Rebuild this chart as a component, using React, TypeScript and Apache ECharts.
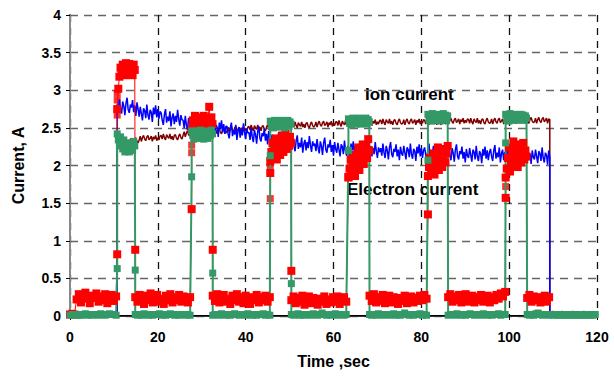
import { useEffect, useRef } from "react";
import * as echarts from "echarts";

// ---------- axis ticks ----------
const xTicks = { min: 0, max: 120, interval: 20 };
const yTicks = { min: 0, max: 4, interval: 0.5 };

// ---------- sampling ----------
const LOW_STEP = 0.5; // s between probe samples in low (ion-collecting) phases
const HIGH_STEP = 0.25; // s between probe samples in high (electron-collecting) phases
const LINE_STEP = 0.25; // s between discharge-current samples
// times of switching between probe phases (s)
const switchTimes = [10.75, 14.85, 27.7, 32.5, 45.6, 50.4, 63.4, 68.2, 81.5, 86.1, 99.2, 104.1];

// ---------- green probe (phases between switch times) ----------
const greenP0 = [0.01,0.02,0.01,0.02,0.01,0.01,0.02,0.03,0.01,0.02,0.01,0.02,0.02,0.01,0.03,0.02,0.01,0.02,0.03,0.02,0.02,0.01];
const greenP1 = [2.42,2.34,2.26,2.38,2.3,2.22,2.34,2.18,2.26,2.2,2.3,2.18,2.24,2.28,2.2,2.32,2.26];
const greenP2 = [0.02,0.01,0.02,0.01,0.03,0.02,0.01,0.02,0.01,0.02,0.02,0.03,0.01,0.02,0.01,0.02,0.03,0.02,0.01,0.02,0.01,0.02,0.02,0.01,0.02,0.01];
const greenP3 = [2.46,2.4,2.35,2.44,2.38,2.46,2.36,2.42,2.47,2.37,2.43,2.35,2.45,2.39,2.46,2.36,2.44,2.4,2.47,2.42];
const greenP4 = [0.01,0.02,0.02,0.01,0.03,0.02,0.01,0.02,0.01,0.02,0.03,0.02,0.01,0.02,0.02,0.01,0.03,0.02,0.01,0.02,0.01,0.02,0.02,0.03,0.01,0.02,0.01];
const greenP5 = [2.59,2.53,2.57,2.5,2.6,2.54,2.58,2.51,2.59,2.55,2.6,2.52,2.57,2.5,2.59,2.54,2.6,2.52,2.58,2.55];
const greenP6 = [0.02,0.01,0.02,0.03,0.01,0.02,0.01,0.02,0.02,0.01,0.03,0.02,0.01,0.02,0.04,0.02,0.01,0.02,0.01,0.02,0.03,0.01,0.02,0.02,0.01,0.02];
const greenP7 = [2.62,2.56,2.6,2.54,2.63,2.57,2.61,2.55,2.62,2.58,2.63,2.55,2.6,2.56,2.62,2.57,2.63,2.55,2.61,2.58];
const greenP8 = [0.02,0.01,0.02,0.01,0.03,0.02,0.01,0.02,0.02,0.01,0.02,0.03,0.01,0.02,0.01,0.02,0.04,0.02,0.01,0.02,0.01,0.02,0.02,0.03,0.01,0.02,0.01];
const greenP9 = [2.68,2.61,2.65,2.59,2.69,2.62,2.66,2.6,2.68,2.63,2.67,2.59,2.65,2.61,2.69,2.62,2.67,2.6,2.66];
const greenP10 = [0.01,0.02,0.02,0.01,0.03,0.02,0.01,0.02,0.01,0.02,0.03,0.02,0.01,0.02,0.02,0.01,0.03,0.02,0.01,0.02,0.01,0.02,0.02,0.03,0.01,0.02,0.02];
const greenP11 = [2.68,2.61,2.65,2.59,2.69,2.62,2.66,2.6,2.68,2.63,2.67,2.6,2.65,2.61,2.68,2.62,2.67,2.6,2.66,2.63];
const greenP12 = [0.02,0.01,0.02,0.01,0.03,0.04,0.02,0.01,0.02,0.02,0.01,0.02,0.01,0.02,0.01,0.01,0.02,0.01,0.01,0.02,0.01,0.01,0.02,0.01,0.01,0.02,0.01,0.01,0.02,0.01,0.01,0.02];
const greenSwitchValues = [0.63, 0.61, 1.85, 0.57, 2.13, 0.43, 2.2, null, 2.07, null, 2.3, null];

// ---------- red probe ----------
const redP0 = [0.02,0.03,0.02,0.22,0.29,0.18,0.26,0.31,0.23,0.17,0.27,0.24,0.3,0.19,0.26,0.21,0.29,0.17,0.25,0.28,0.2,0.26];
const redP1 = [2.75,3.02,3.18,3.3,3.22,3.34,3.26,3.2,3.36,3.28,3.22,3.35,3.25,3.31,3.2,3.34,3.27];
const redP2 = [0.25,0.19,0.28,0.22,0.16,0.27,0.21,0.3,0.18,0.25,0.28,0.19,0.23,0.16,0.27,0.21,0.29,0.18,0.25,0.21,0.28,0.19,0.26,0.23,0.18,0.25];
const redP3 = [2.48,2.6,2.54,2.66,2.5,2.62,2.56,2.47,2.64,2.58,2.52,2.66,2.55,2.6,2.5,2.63,2.78,2.57,2.64,2.55];
const redP4 = [0.27,0.2,0.29,0.18,0.25,0.28,0.19,0.23,0.16,0.27,0.21,0.29,0.19,0.25,0.17,0.27,0.23,0.16,0.25,0.21,0.28,0.18,0.25,0.21,0.27,0.19,0.25];
const redP5 = [2.06,2.18,2.3,2.12,2.24,2.36,2.08,2.2,2.32,2.14,2.28,2.4,2.18,2.3,2.42,2.22,2.34,2.26,2.38,2.3];
const redP6 = [0.21,0.26,0.17,0.24,0.19,0.27,0.15,0.22,0.26,0.17,0.24,0.2,0.15,0.23,0.19,0.26,0.16,0.22,0.18,0.25,0.19,0.26,0.16,0.21,0.25,0.19];
const redP7 = [1.84,1.96,2.08,1.9,2.02,2.14,1.86,2.0,2.12,2.24,1.94,2.06,2.18,2.28,2.02,2.14,2.26,2.1,2.35,2.2];
const redP8 = [0.27,0.2,0.29,0.18,0.25,0.2,0.28,0.17,0.24,0.27,0.18,0.25,0.21,0.16,0.24,0.2,0.27,0.17,0.22,0.26,0.18,0.24,0.2,0.27,0.21,0.28,0.23];
const redP9 = [1.86,1.98,2.1,1.9,2.02,2.16,1.88,2.0,2.12,2.24,1.94,2.06,2.2,1.98,2.1,2.22,2.04,2.16,2.26];
const redP10 = [0.25,0.29,0.19,0.26,0.21,0.28,0.18,0.25,0.29,0.19,0.23,0.27,0.18,0.25,0.21,0.28,0.19,0.23,0.27,0.18,0.25,0.21,0.28,0.23,0.3,0.26,0.32];
const redP11 = [1.84,1.96,2.1,2.24,1.92,2.06,2.2,2.32,2.0,2.14,2.28,1.98,2.1,2.22,2.04,2.16,2.3,2.08,2.2,2.12];
const redP12 = [0.24,0.28,0.19,0.26,0.21,0.25,0.18,0.23,0.27,0.19,0.25];
const redSwitchValues = [0.82, 0.88, 1.42, 0.88, 1.9, 0.6, 1.85, null, 1.35, null, 1.57, null];
const redExtraPoints = [
  [10.75, 2.67], [10.75, 2.87], [10.75, 2.96],
  [27.7, 2.27], [27.7, 2.17], [45.6, 1.98], [45.6, 1.56], [99.2, 1.72],
];
const redTailStart = 109.5;
const redTail = [0.04,0.05,0.04,0.03,0.04,0.05,0.04,0.04,0.03,0.04,0.05,0.04,0.03,0.04,0.04,0.05,0.04,0.03,0.04,0.04,0.03,0.04];

// ---------- discharge on / off ----------
const idleCurrent = 0;
const dischargeOn = 10.75;
const dischargeOff = 109.25;

// blue current, sampled every LINE_STEP from dischargeOn (one row = 5 s)
const blueValues = [
  2.82,2.72,2.88,2.76,2.69,2.85,2.79,2.67,2.83,2.90,2.74,2.70,2.81,2.77,2.87,2.71,2.80,2.66,2.84,2.75,
  2.65,2.78,2.69,2.60,2.76,2.73,2.63,2.81,2.67,2.61,2.74,2.71,2.58,2.77,2.68,2.80,2.64,2.75,2.62,2.72,
  2.70,2.60,2.54,2.68,2.75,2.57,2.65,2.59,2.72,2.52,2.64,2.69,2.55,2.66,2.58,2.74,2.62,2.53,2.67,2.61,
  2.60,2.50,2.66,2.54,2.47,2.63,2.57,2.45,2.61,2.68,2.52,2.48,2.59,2.55,2.65,2.49,2.58,2.44,2.62,2.53,
  2.45,2.58,2.49,2.40,2.56,2.53,2.43,2.61,2.47,2.41,2.54,2.51,2.38,2.57,2.48,2.60,2.44,2.55,2.42,2.52,
  2.52,2.42,2.36,2.50,2.57,2.39,2.47,2.41,2.54,2.34,2.46,2.51,2.37,2.48,2.40,2.56,2.44,2.35,2.49,2.43,
  2.44,2.34,2.50,2.38,2.31,2.47,2.41,2.29,2.45,2.52,2.36,2.32,2.43,2.39,2.49,2.33,2.42,2.28,2.46,2.37,
  2.28,2.41,2.32,2.23,2.39,2.36,2.26,2.44,2.30,2.24,2.37,2.34,2.21,2.40,2.31,2.43,2.27,2.38,2.25,2.35,
  2.35,2.25,2.19,2.33,2.40,2.22,2.30,2.24,2.37,2.17,2.29,2.34,2.20,2.31,2.23,2.39,2.27,2.18,2.32,2.26,
  2.29,2.19,2.35,2.23,2.16,2.32,2.26,2.14,2.30,2.37,2.21,2.17,2.28,2.24,2.34,2.18,2.27,2.13,2.31,2.22,
  2.17,2.30,2.21,2.12,2.28,2.25,2.15,2.33,2.19,2.13,2.26,2.23,2.10,2.29,2.20,2.32,2.16,2.27,2.14,2.24,
  2.27,2.17,2.11,2.25,2.32,2.14,2.22,2.16,2.29,2.09,2.21,2.26,2.12,2.23,2.15,2.31,2.19,2.10,2.24,2.18,
  2.23,2.13,2.29,2.17,2.10,2.26,2.20,2.08,2.24,2.31,2.15,2.11,2.22,2.18,2.28,2.12,2.21,2.07,2.25,2.16,
  2.13,2.26,2.17,2.08,2.24,2.21,2.11,2.29,2.15,2.09,2.22,2.19,2.06,2.25,2.16,2.28,2.12,2.23,2.10,2.20,
  2.24,2.14,2.08,2.22,2.29,2.11,2.19,2.13,2.26,2.06,2.18,2.23,2.09,2.20,2.12,2.28,2.16,2.07,2.21,2.15,
  2.20,2.10,2.26,2.14,2.07,2.23,2.17,2.05,2.21,2.28,2.12,2.08,2.19,2.15,2.25,2.09,2.18,2.04,2.22,2.13,
  2.10,2.23,2.14,2.05,2.21,2.18,2.08,2.26,2.12,2.06,2.19,2.16,2.03,2.22,2.13,2.25,2.09,2.20,2.07,2.17,
  2.22,2.12,2.06,2.20,2.27,2.09,2.17,2.11,2.24,2.04,2.16,2.21,2.07,2.18,2.10,2.26,2.14,2.05,2.19,2.13,
  2.18,2.08,2.24,2.12,2.05,2.21,2.15,2.03,2.19,2.26,2.10,2.06,2.17,2.13,2.23,2.07,2.16,2.02,2.20,2.11,
  2.08,2.21,2.12,2.03,2.19,2.16,2.06,2.24,2.10,2.04,2.17,2.14,2.01,2.20,2.11,
];

// ion current (maroon), sampled every LINE_STEP from dischargeOn (one row = 5 s)
const ionValues = [
  2.35,2.30,2.37,2.32,2.29,2.36,2.33,2.31,2.37,2.30,2.34,2.29,2.35,2.36,2.31,2.29,2.34,2.37,2.32,2.30,
  2.34,2.39,2.32,2.37,2.40,2.35,2.33,2.38,2.40,2.34,2.36,2.39,2.32,2.38,2.35,2.40,2.33,2.37,2.34,2.39,
  2.40,2.35,2.42,2.37,2.34,2.41,2.38,2.36,2.42,2.35,2.39,2.34,2.40,2.41,2.36,2.34,2.39,2.42,2.37,2.35,
  2.40,2.45,2.38,2.43,2.46,2.41,2.39,2.44,2.46,2.40,2.42,2.45,2.38,2.44,2.41,2.46,2.39,2.43,2.40,2.45,
  2.48,2.43,2.50,2.45,2.42,2.49,2.46,2.44,2.50,2.43,2.47,2.42,2.48,2.49,2.44,2.42,2.47,2.50,2.45,2.43,
  2.46,2.51,2.44,2.49,2.52,2.47,2.45,2.50,2.52,2.46,2.48,2.51,2.44,2.50,2.47,2.52,2.45,2.49,2.46,2.51,
  2.52,2.47,2.54,2.49,2.46,2.53,2.50,2.48,2.54,2.47,2.51,2.46,2.52,2.53,2.48,2.46,2.51,2.54,2.49,2.47,
  2.50,2.55,2.48,2.53,2.56,2.51,2.49,2.54,2.56,2.50,2.52,2.55,2.48,2.54,2.51,2.56,2.49,2.53,2.50,2.55,
  2.56,2.51,2.58,2.53,2.50,2.57,2.54,2.52,2.58,2.51,2.55,2.50,2.56,2.57,2.52,2.50,2.55,2.58,2.53,2.51,
  2.53,2.58,2.51,2.56,2.59,2.54,2.52,2.57,2.59,2.53,2.55,2.58,2.51,2.57,2.54,2.59,2.52,2.56,2.53,2.58,
  2.58,2.53,2.60,2.55,2.52,2.59,2.56,2.54,2.60,2.53,2.57,2.52,2.58,2.59,2.54,2.52,2.57,2.60,2.55,2.53,
  2.55,2.60,2.53,2.58,2.61,2.56,2.54,2.59,2.61,2.55,2.57,2.60,2.53,2.59,2.56,2.61,2.54,2.58,2.55,2.60,
  2.60,2.55,2.62,2.57,2.54,2.61,2.58,2.56,2.62,2.55,2.59,2.54,2.60,2.61,2.56,2.54,2.59,2.62,2.57,2.55,
  2.56,2.61,2.54,2.59,2.62,2.57,2.55,2.60,2.62,2.56,2.58,2.61,2.54,2.60,2.57,2.62,2.55,2.59,2.56,2.61,
  2.60,2.55,2.62,2.57,2.54,2.61,2.58,2.56,2.62,2.55,2.59,2.54,2.60,2.61,2.56,2.54,2.59,2.62,2.57,2.55,
  2.57,2.62,2.55,2.60,2.63,2.58,2.56,2.61,2.63,2.57,2.59,2.62,2.55,2.61,2.58,2.63,2.56,2.60,2.57,2.62,
  2.61,2.56,2.63,2.58,2.55,2.62,2.59,2.57,2.63,2.56,2.60,2.55,2.61,2.62,2.57,2.55,2.60,2.63,2.58,2.56,
  2.57,2.62,2.55,2.60,2.63,2.58,2.56,2.61,2.63,2.57,2.59,2.62,2.55,2.61,2.58,2.63,2.56,2.60,2.57,2.62,
  2.62,2.57,2.64,2.59,2.56,2.63,2.60,2.58,2.64,2.57,2.61,2.56,2.62,2.63,2.58,2.56,2.61,2.64,2.59,2.57,
  2.58,2.63,2.56,2.61,2.64,2.59,2.57,2.62,2.64,2.58,2.60,2.63,2.56,2.62,2.61,
];

// ---------- annotation texts ----------
const ionLabel = "Ion current";
const electronLabel = "Electron current";
const xTitle = "Time ,sec";
const yTitle = "Current, A";

const greenPhases = [greenP0, greenP1, greenP2, greenP3, greenP4, greenP5, greenP6, greenP7, greenP8, greenP9, greenP10, greenP11, greenP12];
const redPhases = [redP0, redP1, redP2, redP3, redP4, redP5, redP6, redP7, redP8, redP9, redP10, redP11, redP12];

const r3 = (v: number) => Math.round(v * 1000) / 1000;

function buildPhased(phases: number[][], switchVals: (number | null)[]) {
  const pts: number[][] = [];
  phases.forEach((vals, k) => {
    const t0 = k === 0 ? 0 : switchTimes[k - 1];
    const step = k % 2 === 1 ? HIGH_STEP : LOW_STEP;
    if (k > 0 && switchVals[k - 1] != null) pts.push([t0, switchVals[k - 1] as number]);
    vals.forEach((v, j) => pts.push([r3(t0 + j * step), v]));
  });
  return pts;
}

function buildRun(values: number[], t0: number, step: number) {
  return values.map((v, j) => [r3(t0 + j * step), v]);
}

const FONT = "'Liberation Sans', Arial, Helvetica, sans-serif";

export default function App() {
  const ref = useRef<HTMLDivElement>(null);

  useEffect(() => {
    document.body.style.margin = "0";
    if (!ref.current) return;
    const chart = echarts.init(ref.current, null, { renderer: "svg" });

    const greenData = buildPhased(greenPhases, greenSwitchValues);
    const redData = buildPhased(redPhases, redSwitchValues);
    const blueData = [
      [0, idleCurrent],
      [dischargeOn, idleCurrent],
      ...buildRun(blueValues, dischargeOn, LINE_STEP),
      [dischargeOff, idleCurrent],
      [xTicks.max, idleCurrent],
    ];
    const ionData = [
      [0, idleCurrent],
      [dischargeOn, idleCurrent],
      ...buildRun(ionValues, dischargeOn, LINE_STEP),
      [dischargeOff, idleCurrent],
      [xTicks.max, idleCurrent],
    ];
    const redTailData = buildRun(redTail, redTailStart, LOW_STEP);

    const labelStyle = { color: "#000", fontWeight: "bold" as const, fontSize: 14, fontFamily: FONT };

    chart.setOption({
      animation: false,
      backgroundColor: "#fff",
      grid: { left: 70, right: 17, top: 15, bottom: 61, containLabel: false },
      xAxis: [
        {
          type: "value",
          min: xTicks.min,
          max: xTicks.max,
          interval: xTicks.interval,
          name: xTitle,
          nameLocation: "middle",
          nameGap: 37,
          nameTextStyle: { color: "#000", fontWeight: "bold", fontSize: 16, fontFamily: FONT },
          axisLine: { show: true, lineStyle: { color: "#000", width: 2 } },
          axisTick: { show: true, inside: false, length: 4, lineStyle: { color: "#000", width: 1 } },
          axisLabel: { ...labelStyle, margin: 14 },
          splitLine: { show: true, lineStyle: { color: "#111", width: 1.3, type: [7, 6] } },
        },
        {
          type: "value",
          position: "top",
          min: xTicks.min,
          max: xTicks.max,
          axisLine: { show: true, lineStyle: { color: "#333", width: 1 } },
          axisTick: { show: false },
          axisLabel: { show: false },
          splitLine: { show: false },
        },
      ],
      yAxis: [
        {
          type: "value",
          min: yTicks.min,
          max: yTicks.max,
          interval: yTicks.interval,
          name: yTitle,
          nameLocation: "middle",
          nameRotate: 90,
          nameGap: 44,
          nameTextStyle: { color: "#000", fontWeight: "bold", fontSize: 16, fontFamily: FONT },
          axisLine: { show: true, lineStyle: { color: "#000", width: 2 } },
          axisTick: { show: true, inside: false, length: 4, lineStyle: { color: "#000", width: 1 } },
          axisLabel: { ...labelStyle, margin: 9 },
          splitLine: { show: true, lineStyle: { color: "#666", width: 1.3, type: [8, 6] } },
        },
        {
          type: "value",
          position: "right",
          min: yTicks.min,
          max: yTicks.max,
          axisLine: { show: true, lineStyle: { color: "#888", width: 2 } },
          axisTick: { show: false },
          axisLabel: { show: false },
          splitLine: { show: false },
        },
      ],
      graphic: [
        {
          type: "text",
          left: 365,
          top: 86,
          style: { text: ionLabel, fill: "#000", font: `bold 17px ${FONT}` },
        },
        {
          type: "text",
          left: 347,
          top: 181,
          style: { text: electronLabel, fill: "#000", font: `bold 17px ${FONT}` },
        },
      ],
      series: [
        {
          name: "Ion",
          type: "line",
          data: ionData,
          showSymbol: false,
          clip: false,
          silent: true,
          lineStyle: { color: "#800000", width: 1.5 },
        },
        {
          name: "Blue",
          type: "line",
          data: blueData,
          showSymbol: false,
          clip: false,
          silent: true,
          lineStyle: { color: "#0000ff", width: 1.5 },
        },
        {
          name: "RedTail",
          type: "line",
          data: redTailData,
          showSymbol: false,
          clip: false,
          silent: true,
          lineStyle: { color: "#ff0000", width: 3 },
        },
        {
          name: "Red",
          type: "line",
          data: redData,
          symbol: "rect",
          symbolSize: 8,
          showSymbol: true,
          clip: false,
          silent: true,
          itemStyle: { color: "#ff0000" },
          lineStyle: { color: "#ff0000", width: 1 },
        },
        {
          name: "RedExtra",
          type: "scatter",
          data: redExtraPoints,
          symbol: "rect",
          symbolSize: 7,
          clip: false,
          silent: true,
          itemStyle: { color: "#ff0000" },
        },
        {
          name: "Green",
          type: "line",
          data: greenData,
          symbol: "rect",
          symbolSize: 7,
          showSymbol: true,
          clip: false,
          silent: true,
          itemStyle: { color: "#339966" },
          lineStyle: { color: "#339966", width: 2 },
        },
      ],
    });

    return () => chart.dispose();
  }, []);

  return <div ref={ref} style={{ width: 614, height: 377 }} />;
}
